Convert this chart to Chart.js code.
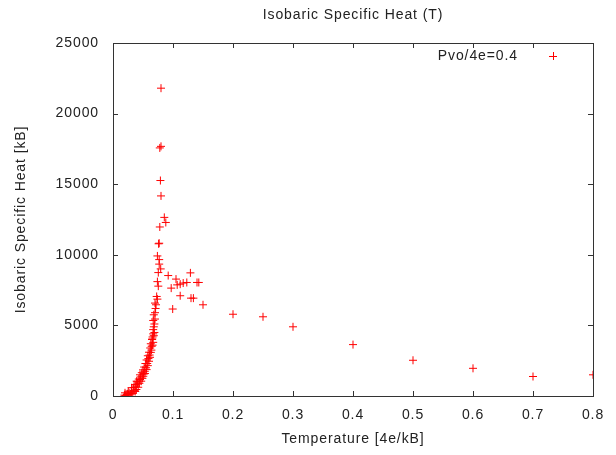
<!DOCTYPE html>
<html>
<head>
<meta charset="utf-8">
<script src="https://cdn.jsdelivr.net/npm/chart.js@4.4.1/dist/chart.umd.min.js"></script>
<style>
  html, body { margin: 0; padding: 0; background: #fff; }
  #wrap { width: 616px; height: 455px; }
</style>
</head>
<body>
<div id="wrap"><canvas id="myChart" width="616" height="455"></canvas></div>
<script>
const chartTitle = 'Isobaric Specific Heat (T)';
const seriesLabel = 'Pvo/4e=0.4';
const xTitle = 'Temperature [4e/kB]';
const yTitle = 'Isobaric Specific Heat [kB]';

// temperature values (x)
const temperature = [
  0.8, 0.7, 0.6, 0.5, 0.4, 0.3, 0.25, 0.2, 0.15,
  0.140, 0.143, 0.134, 0.130, 0.129, 0.123, 0.117, 0.112, 0.112,
  0.105, 0.107, 0.097, 0.092, 0.0995,
  0.080, 0.078, 0.080, 0.079, 0.080, 0.0855, 0.088, 0.078, 0.077, 0.076,
  0.074, 0.077, 0.077, 0.0795, 0.0755, 0.074, 0.0755, 0.0728, 0.074, 0.070,
  0.0717, 0.068, 0.070, 0.067, 0.067, 0.066, 0.068, 0.0655, 0.067, 0.0645,
  0.063, 0.0617, 0.060, 0.058, 0.056, 0.0533, 0.0505, 0.045, 0.0395, 0.0367,
  0.031, 0.0255, 0.020, 0.023,
  0.019, 0.021, 0.024, 0.026, 0.028, 0.029, 0.031, 0.033, 0.035, 0.034,
  0.037, 0.038, 0.039, 0.041, 0.040, 0.042, 0.043, 0.044, 0.046, 0.045,
  0.047, 0.048, 0.049, 0.050, 0.051, 0.052, 0.053, 0.054, 0.055, 0.056,
  0.057, 0.058, 0.059, 0.060, 0.061, 0.062, 0.063, 0.064, 0.065, 0.066,
  0.067, 0.068, 0.069, 0.069, 0.070, 0.071
];

// specific heat values (y)
const specificHeat = [
  1500, 1380, 1960, 2530, 3640, 4900, 5610, 5790, 6460,
  8040, 8040, 6930, 6930, 8720, 8040, 8000, 7920, 7100,
  8280, 7870, 7640, 8530, 6160,
  21800, 17570, 17680, 15260, 14170, 12650, 12290, 11970, 10820, 10780,
  9920, 9660, 9340, 9000, 8740, 8100, 7780, 7050, 6860, 6580,
  6460, 5750, 5450, 5350, 4700, 4180, 4270, 4040, 3800, 3520,
  3090, 2740, 2460, 2150, 1870, 1590, 1400, 1165, 1050, 810,
  580, 340, 225, 105,
  60, 30, 160, 90, 200, 140, 260, 180, 380, 600,
  320, 700, 460, 850, 1000, 620, 1200, 900, 1350, 1500,
  1050, 1650, 1250, 1850, 1550, 2050, 1750, 2300, 2000, 2550,
  2300, 2850, 2650, 3100, 2900, 3400, 3700, 3250, 4000, 3600,
  4400, 4900, 5100, 4500, 5900, 6200
];

const xTicks = [0, 0.1, 0.2, 0.3, 0.4, 0.5, 0.6, 0.7, 0.8];
const yTicks = [0, 5000, 10000, 15000, 20000, 25000];

const points = temperature.map((t, i) => ({ x: t, y: specificHeat[i] }));
const FONT = 'Liberation Sans, Arial, sans-serif';
const TEXT = '#222';

// gnuplot text is spaced a bit wider than canvas default
const spacing = {
  id: 'spacing',
  beforeDraw(chart) { chart.ctx.letterSpacing = '0.9px'; }
};

// inner tick marks, frame, title and key, gnuplot style
const gnuplotDecor = {
  id: 'gnuplotDecor',
  afterDraw(chart) {
    const ctx = chart.ctx;
    const a = chart.chartArea;
    const xs = chart.scales.x;
    const ys = chart.scales.y;
    const len = 5;
    ctx.save();
    ctx.strokeStyle = '#333';
    ctx.lineWidth = 1;
    ctx.beginPath();
    xs.ticks.forEach(t => {
      const px = Math.round(xs.getPixelForValue(t.value)) + 0.5;
      ctx.moveTo(px, a.bottom); ctx.lineTo(px, a.bottom - len);
      ctx.moveTo(px, a.top); ctx.lineTo(px, a.top + len);
    });
    ys.ticks.forEach(t => {
      const py = Math.round(ys.getPixelForValue(t.value)) + 0.5;
      ctx.moveTo(a.left, py); ctx.lineTo(a.left + len, py);
      ctx.moveTo(a.right, py); ctx.lineTo(a.right - len, py);
    });
    ctx.stroke();
    ctx.strokeRect(Math.round(a.left) + 0.5, Math.round(a.top) + 0.5,
      Math.round(a.right - a.left), Math.round(a.bottom - a.top));

    ctx.fillStyle = TEXT;
    ctx.font = '14px ' + FONT;
    ctx.textAlign = 'center';
    ctx.textBaseline = 'middle';
    ctx.fillText(chartTitle, (a.left + a.right) / 2, 15);

    // key
    const ky = a.top + 13;
    ctx.textAlign = 'right';
    ctx.fillText(chart.data.datasets[0].label, a.right - 75, ky);
    const kx = a.right - 40;
    ctx.strokeStyle = '#ff0000';
    ctx.beginPath();
    ctx.moveTo(kx - 4, ky + 0.5); ctx.lineTo(kx + 4, ky + 0.5);
    ctx.moveTo(kx + 0.5, ky - 4); ctx.lineTo(kx + 0.5, ky + 4);
    ctx.stroke();
    ctx.restore();
  }
};

new Chart(document.getElementById('myChart'), {
  type: 'scatter',
  data: {
    datasets: [{
      label: seriesLabel,
      data: points,
      pointStyle: 'cross',
      pointRadius: 4,
      pointHoverRadius: 4,
      borderColor: '#ff0000',
      backgroundColor: '#ff0000',
      borderWidth: 1
    }]
  },
  options: {
    responsive: false,
    animation: false,
    events: [],
    layout: { padding: { left: 0, top: 43, right: 23, bottom: 0 } },
    plugins: {
      legend: { display: false },
      title: { display: false },
      tooltip: { enabled: false }
    },
    scales: {
      x: {
        type: 'linear',
        min: 0,
        max: 0.8,
        afterFit: s => { s.height = 59; },
        afterBuildTicks: s => { s.ticks = xTicks.map(v => ({ value: v })); },
        grid: { display: false, drawTicks: false },
        border: { display: false },
        ticks: {
          padding: 11,
          color: TEXT,
          font: { family: FONT, size: 14 },
          callback: v => (v === 0 ? '0' : String(Number(v.toFixed(1))))
        },
        title: {
          display: true,
          text: xTitle,
          color: TEXT,
          font: { family: FONT, size: 14 },
          padding: { top: 0, bottom: 7 }
        }
      },
      y: {
        type: 'linear',
        min: 0,
        max: 25000,
        afterFit: s => { s.width = 113; },
        afterBuildTicks: s => { s.ticks = yTicks.map(v => ({ value: v })); },
        grid: { display: false, drawTicks: false },
        border: { display: false },
        ticks: {
          padding: 14,
          color: TEXT,
          font: { family: FONT, size: 14 },
          callback: v => String(v)
        },
        title: {
          display: true,
          text: yTitle,
          color: TEXT,
          font: { family: FONT, size: 14 },
          padding: { top: 13, bottom: 0 }
        }
      }
    }
  },
  plugins: [spacing, gnuplotDecor]
});
</script>
</body>
</html>
